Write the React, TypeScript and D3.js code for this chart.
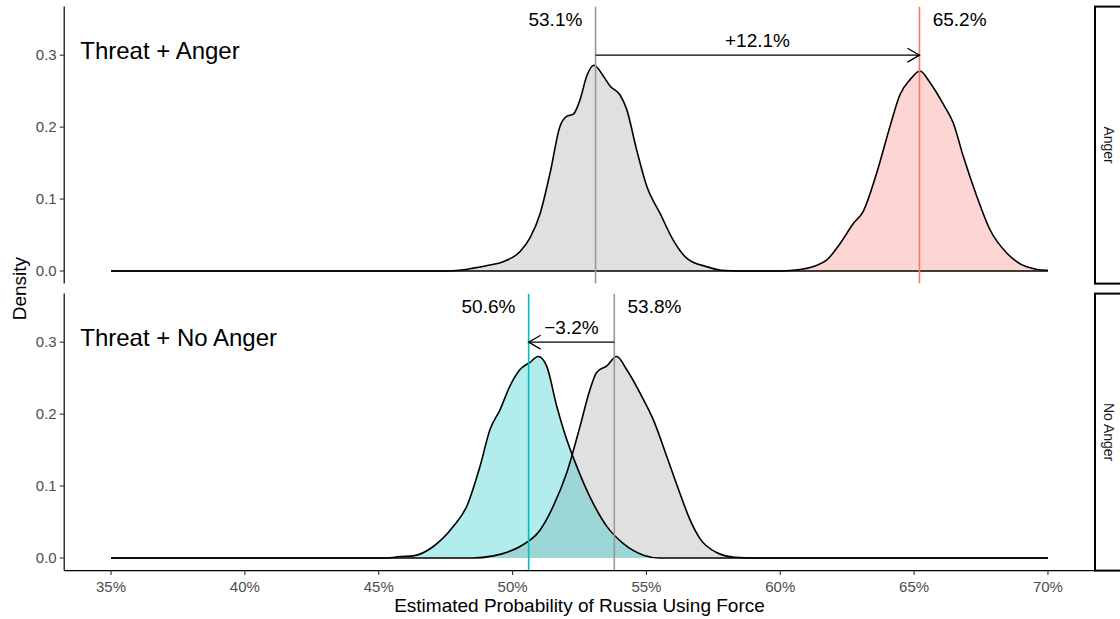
import React from "react";
import * as d3 from "d3";

// Posterior densities of the estimated probability (percent, density)
const angerControl: [number, number][] = [
  [35, 0], [47.5, 0], [48.0, 0.001], [48.53, 0.004], [49.1, 0.008], [49.65, 0.013], [50.28, 0.027],
  [50.65, 0.046], [51.03, 0.08], [51.4, 0.136], [51.77, 0.201], [52.02, 0.215], [52.27, 0.218],
  [52.52, 0.238], [52.77, 0.271], [53.04, 0.286], [53.39, 0.271], [53.64, 0.257], [54.01, 0.245],
  [54.26, 0.225], [54.63, 0.169], [55.01, 0.118], [55.51, 0.08], [56.0, 0.043], [56.5, 0.018],
  [57.25, 0.006], [57.8, 0.001], [58.5, 0], [70, 0],
];
const angerTreated: [number, number][] = [
  [35, 0], [60, 0], [60.74, 0.002], [61.3, 0.007], [61.73, 0.015], [62.23, 0.038], [62.73, 0.066],
  [63.1, 0.083], [63.6, 0.136], [64.1, 0.201], [64.47, 0.245], [64.85, 0.266], [65.22, 0.278],
  [65.59, 0.262], [66.09, 0.232], [66.46, 0.206], [66.84, 0.159], [67.34, 0.104], [67.84, 0.057],
  [68.46, 0.025], [69.2, 0.006], [69.95, 0.001], [70, 0.001],
];
const noAngerControl: [number, number][] = [
  [35, 0], [48.5, 0], [49.28, 0.003], [49.8, 0.008], [50.28, 0.016], [51.03, 0.039], [51.52, 0.072],
  [52.02, 0.118], [52.52, 0.183], [52.89, 0.234], [53.14, 0.258], [53.52, 0.267], [53.89, 0.28],
  [54.26, 0.262], [54.89, 0.22], [55.26, 0.192], [55.76, 0.141], [56.25, 0.09], [56.63, 0.053],
  [57.0, 0.027], [57.6, 0.008], [58.3, 0.001], [59, 0], [70, 0],
];
const noAngerTreated: [number, number][] = [
  [35, 0], [45.3, 0], [45.8, 0.002], [46.29, 0.003], [47.04, 0.016], [47.79, 0.044], [48.29, 0.072],
  [48.78, 0.127], [49.16, 0.179], [49.53, 0.206], [49.9, 0.239], [50.28, 0.262], [50.65, 0.272],
  [50.96, 0.28], [51.27, 0.267], [51.65, 0.211], [52.02, 0.165], [52.4, 0.127], [52.89, 0.085],
  [53.52, 0.044], [54.14, 0.02], [54.89, 0.004], [55.5, 0], [70, 0],
];

// Medians of each distribution and the shift between them
const controlMedians = [53.1, 53.8];
const treatedMedians = [65.2, 50.6];
const shiftLabels = ["+12.1%", "\u22123.2%"];
const facetLabels = ["Anger", "No Anger"];
const panelTitles = ["Threat + Anger", "Threat + No Anger"];

const xTicks = [35, 40, 45, 50, 55, 60, 65, 70];
const yTicks = [0, 0.1, 0.2, 0.3];

const W = 1120;
const H = 619;
const left = 64.2;
const right = 1094.8;
const panelTops = [6.6, 293.6];
const panelH = 277;
const FONT = "'Liberation Sans', Arial, Helvetica, sans-serif";

const treatedColors = ["#F8766D", "#00BFC4"];
const controlColor = "#999999";

export default function App() {
  const x = d3.scaleLinear().domain([33.25, 71.75]).range([left, right]);

  const panels = [
    { control: angerControl, treated: angerTreated },
    { control: noAngerControl, treated: noAngerTreated },
  ];

  return (
    <svg
      width={W}
      height={H}
      style={{ position: "absolute", left: 0, top: 0, background: "#fff" }}
      fontFamily={FONT}
    >
      {panels.map((p, i) => {
        const top = panelTops[i];
        const y = d3.scaleLinear().domain([-0.0175, 0.3675]).range([top + panelH, top]);
        const area = d3
          .area<[number, number]>()
          .x((d) => x(d[0]))
          .y0(y(0))
          .y1((d) => y(d[1]))
          .curve(d3.curveMonotoneX);
        const line = d3
          .line<[number, number]>()
          .x((d) => x(d[0]))
          .y((d) => y(d[1]))
          .curve(d3.curveMonotoneX);
        const c = controlMedians[i];
        const t = treatedMedians[i];
        const dir = t > c ? 1 : -1;
        const ay = y(0.3);
        const tipX = x(t);
        const headLen = 12;
        const headHalf = 6.9;
        const clipId = `clip-${i}`;
        return (
          <g key={i}>
            <defs>
              <clipPath id={clipId}>
                <rect x={left} y={top} width={right - left} height={panelH} />
              </clipPath>
            </defs>
            <g clipPath={`url(#${clipId})`}>
              <path d={area(p.control) ?? ""} fill={controlColor} fillOpacity={0.3} />
              <path d={area(p.treated) ?? ""} fill={treatedColors[i]} fillOpacity={0.3} />
              <path d={line(p.control) ?? ""} fill="none" stroke="#000" strokeWidth={1.6} />
              <path d={line(p.treated) ?? ""} fill="none" stroke="#000" strokeWidth={1.6} />
              <line x1={x(c)} x2={x(c)} y1={top} y2={top + panelH} stroke={controlColor} strokeWidth={1.6} />
              <line x1={x(t)} x2={x(t)} y1={top} y2={top + panelH} stroke={treatedColors[i]} strokeWidth={1.6} />
              {/* shift arrow */}
              <line x1={x(c)} x2={tipX} y1={ay} y2={ay} stroke="#000" strokeWidth={1.3} />
              <polyline
                points={`${tipX - dir * headLen},${ay - headHalf} ${tipX},${ay} ${tipX - dir * headLen},${ay + headHalf}`}
                fill="none"
                stroke="#000"
                strokeWidth={1.3}
              />
            </g>
            {/* median labels */}
            <text x={x(c - dir * 1.5)} y={y(0.35) + 6.6} fontSize={19} textAnchor="middle" fill="#000">
              {`${c.toFixed(1)}%`}
            </text>
            <text x={x(t + dir * 1.5)} y={y(0.35) + 6.6} fontSize={19} textAnchor="middle" fill="#000">
              {`${t.toFixed(1)}%`}
            </text>
            <text x={x((c + t) / 2)} y={y(0.32) + 6.6} fontSize={19} textAnchor="middle" fill="#000">
              {shiftLabels[i]}
            </text>
            <text x={x(33.85)} y={y(0.3) + 4} fontSize={24} fill="#000">
              {panelTitles[i]}
            </text>
            {/* y axis */}
            <line x1={left} x2={left} y1={top} y2={top + panelH} stroke="#000" strokeWidth={1.2} />
            {yTicks.map((v) => (
              <g key={v}>
                <line x1={left - 4.5} x2={left} y1={y(v)} y2={y(v)} stroke="#333" strokeWidth={1.1} />
                <text x={left - 7.5} y={y(v) + 5.3} fontSize={15} textAnchor="end" fill="#4D4D4D">
                  {v.toFixed(1)}
                </text>
              </g>
            ))}
            {/* facet strip */}
            <rect x={1095} y={top} width={27} height={panelH} fill="#fff" stroke="#000" strokeWidth={2} />
            <text
              transform={`translate(${1108.5},${top + panelH / 2}) rotate(90)`}
              fontSize={14}
              textAnchor="middle"
              dy={5}
              fill="#1A1A1A"
            >
              {facetLabels[i]}
            </text>
          </g>
        );
      })}
      {/* shared x axis */}
      <line x1={left} x2={right} y1={panelTops[1] + panelH} y2={panelTops[1] + panelH} stroke="#000" strokeWidth={1.2} />
      {xTicks.map((v) => (
        <g key={v}>
          <line
            x1={x(v)}
            x2={x(v)}
            y1={panelTops[1] + panelH}
            y2={panelTops[1] + panelH + 4.5}
            stroke="#333"
            strokeWidth={1.1}
          />
          <text x={x(v)} y={591.5} fontSize={15} textAnchor="middle" fill="#4D4D4D">
            {`${v}%`}
          </text>
        </g>
      ))}
      <text x={(left + right) / 2} y={611.5} fontSize={19} textAnchor="middle" fill="#000">
        Estimated Probability of Russia Using Force
      </text>
      <text transform={`translate(25.5,${(panelTops[0] + panelTops[1] + panelH) / 2}) rotate(-90)`} fontSize={19} textAnchor="middle" fill="#000">
        Density
      </text>
    </svg>
  );
}
